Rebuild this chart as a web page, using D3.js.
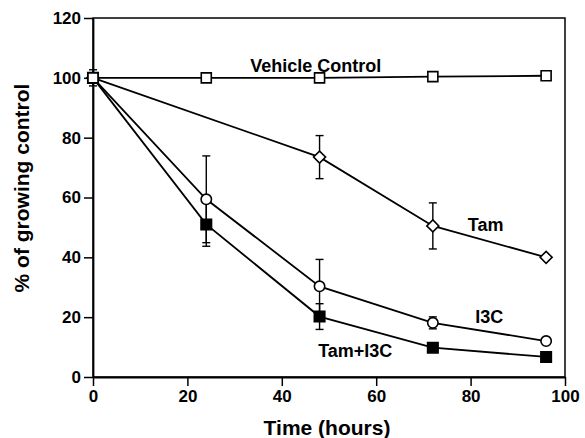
<!DOCTYPE html>
<html>
<head>
<meta charset="utf-8">
<script src="https://cdn.jsdelivr.net/npm/d3@7"></script>
<style>
  body { margin: 0; background: #fff; }
  svg { font-family: "Liberation Sans", Arial, sans-serif; font-weight: bold; }
</style>
</head>
<body>
<div id="chart"></div>
<script>
// hours
var hours = [0, 24, 48, 72, 96];

// % of growing control, with error bars
var vehicle = [100, 100, 100, 100.4, 100.7];
var vehicleErr = [2.7, 0, 0, 0, 0];
var tam = [100, null, 73.5, 50.5, 40];
var tamErr = [0, 0, 7.2, 7.7, 0];
var i3c = [100, 59.4, 30.3, 18.1, 12];
var i3cErr = [0, 14.5, 9, 2, 0];
var tamI3c = [100, 51, 20.2, 9.8, 6.7];
var tamI3cErr = [0, 7.3, 4.3, 0, 0];

var xTicks = [0, 20, 40, 60, 80, 100];
var yTicks = [0, 20, 40, 60, 80, 100, 120];

var width = 585, height = 438;
var margin = { top: 18, right: 20, bottom: 61, left: 93 };

var svg = d3.select("#chart").append("svg")
  .attr("width", width)
  .attr("height", height);

var x = d3.scaleLinear().domain([0, 100]).range([margin.left, width - margin.right]);
var y = d3.scaleLinear().domain([0, 120]).range([height - margin.bottom, margin.top]);

// frame
svg.append("rect")
  .attr("x", x(0)).attr("y", y(120))
  .attr("width", x(100) - x(0)).attr("height", y(0) - y(120))
  .attr("fill", "none").attr("stroke", "#000").attr("stroke-width", 1.5);

var xAxis = svg.append("g")
  .attr("transform", "translate(0," + y(0) + ")")
  .call(d3.axisBottom(x).tickValues(xTicks).tickSize(9).tickPadding(4).tickSizeOuter(0));
var yAxis = svg.append("g")
  .attr("transform", "translate(" + x(0) + ",0)")
  .call(d3.axisLeft(y).tickValues(yTicks).tickSize(9).tickPadding(3).tickSizeOuter(0));

[xAxis, yAxis].forEach(function (g) {
  g.select(".domain").attr("stroke-width", 1.8);
  g.selectAll(".tick line").attr("stroke-width", 1.5);
  g.selectAll(".tick text")
    .attr("font-size", 17).attr("font-weight", "bold")
    .attr("font-family", "'Liberation Sans', Arial, sans-serif").attr("fill", "#000");
});

// axis titles
svg.append("text")
  .attr("x", (x(0) + x(100)) / 2 - 2).attr("y", 435)
  .attr("text-anchor", "middle").attr("font-size", 21)
  .text("Time (hours)");
svg.append("text")
  .attr("transform", "translate(29," + 188 + ") rotate(-90)")
  .attr("text-anchor", "middle").attr("font-size", 21)
  .text("% of growing control");

var series = [
  { vals: vehicle, err: vehicleErr, shape: "square", fill: "#fff" },
  { vals: tam, err: tamErr, shape: "diamond", fill: "#fff" },
  { vals: i3c, err: i3cErr, shape: "circle", fill: "#fff" },
  { vals: tamI3c, err: tamI3cErr, shape: "square", fill: "#000" }
];

var line = d3.line()
  .x(function (d) { return x(d.t); })
  .y(function (d) { return y(d.v); });

function points(s) {
  return hours.map(function (t, i) { return { t: t, v: s.vals[i], e: s.err[i] }; })
    .filter(function (d) { return d.v != null; });
}

// lines
series.forEach(function (s) {
  svg.append("path")
    .datum(points(s))
    .attr("d", line)
    .attr("fill", "none").attr("stroke", "#000").attr("stroke-width", 1.8);
});

// error bars
series.forEach(function (s) {
  var pts = points(s).filter(function (d) { return d.e > 0; });
  var g = svg.append("g").attr("stroke", "#000").attr("stroke-width", 1.4);
  pts.forEach(function (d) {
    g.append("line").attr("x1", x(d.t)).attr("x2", x(d.t))
      .attr("y1", y(d.v + d.e)).attr("y2", y(d.v - d.e));
    [d.v + d.e, d.v - d.e].forEach(function (v) {
      g.append("line").attr("x1", x(d.t) - 4).attr("x2", x(d.t) + 4)
        .attr("y1", y(v)).attr("y2", y(v));
    });
  });
});

// markers (vehicle drawn last so its open square sits on top at t=0)
var size = { square: 100, diamond: 72, circle: 85 };
series.slice().reverse().forEach(function (s) {
  var type = s.shape === "circle" ? d3.symbolCircle : d3.symbolSquare;
  var rot = s.shape === "diamond" ? " rotate(45)" : "";
  svg.selectAll(null)
    .data(points(s))
    .enter().append("path")
    .attr("d", d3.symbol().type(type).size(s.fill === "#000" ? 110 : size[s.shape]))
    .attr("transform", function (d) { return "translate(" + x(d.t) + "," + y(d.v) + ")" + rot; })
    .attr("fill", s.fill).attr("stroke", "#000").attr("stroke-width", 1.6);
});

// series labels
var labels = [
  { text: "Vehicle Control", t: 33.3, v: 102 },
  { text: "Tam", t: 79.4, v: 48.7 },
  { text: "I3C", t: 81, v: 18.2 },
  { text: "Tam+I3C", t: 47.7, v: 6.8 }
];
svg.selectAll(null)
  .data(labels)
  .enter().append("text")
  .attr("x", function (d) { return x(d.t); })
  .attr("y", function (d) { return y(d.v); })
  .attr("font-size", 18)
  .text(function (d) { return d.text; });
</script>
</body>
</html>
